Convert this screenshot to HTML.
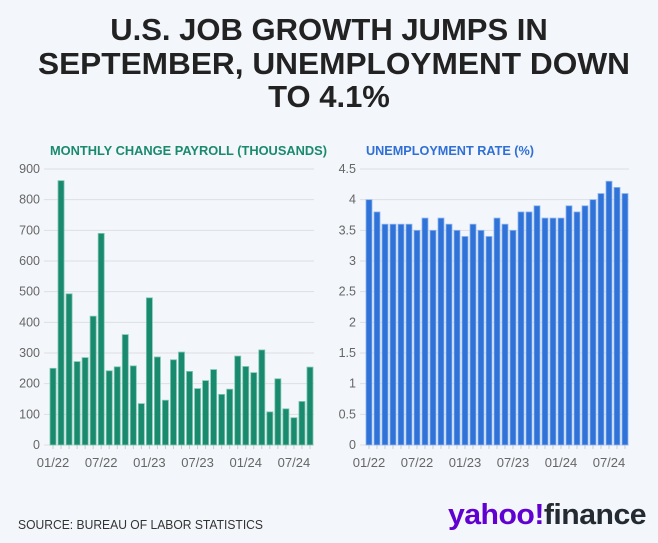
<!DOCTYPE html>
<html><head><meta charset="utf-8"><style>
body{margin:0;background:#f3f6fa;width:658px;height:538px;overflow:hidden;font-family:"Liberation Sans",sans-serif}
</style></head><body>
<svg width="658" height="538" xmlns="http://www.w3.org/2000/svg">
<rect width="658" height="538" fill="#f3f6fa"/>
<g font-family="Liberation Sans, sans-serif" font-weight="bold" font-size="31" fill="#222" text-anchor="middle">
<text x="329" y="40">U.S. JOB GROWTH JUMPS IN</text>
<text x="334" y="74" textLength="592" lengthAdjust="spacingAndGlyphs">SEPTEMBER, UNEMPLOYMENT DOWN</text>
<text x="329" y="107">TO 4.1%</text>
</g>
<text x="50" y="155" font-size="13" font-weight="bold" fill="#1a8a6e" textLength="277" lengthAdjust="spacingAndGlyphs">MONTHLY CHANGE PAYROLL (THOUSANDS)</text>
<text x="366" y="155" font-size="13" font-weight="bold" fill="#2f6fd6" textLength="168" lengthAdjust="spacingAndGlyphs">UNEMPLOYMENT RATE (%)</text>
<g id="left"></g>
<g id="right"></g>
<text x="18" y="529" font-size="12.5" fill="#333" textLength="245" lengthAdjust="spacingAndGlyphs">SOURCE: BUREAU OF LABOR STATISTICS</text>
<text x="646" y="524" font-size="29" font-weight="bold" text-anchor="end" letter-spacing="-0.5" textLength="198" lengthAdjust="spacingAndGlyphs"><tspan fill="#6001d2">yahoo!</tspan><tspan fill="#232a31">finance</tspan></text>
</svg>
<script>
const months = ["01/22","02/22","03/22","04/22","05/22","06/22","07/22","08/22","09/22","10/22","11/22","12/22","01/23","02/23","03/23","04/23","05/23","06/23","07/23","08/23","09/23","10/23","11/23","12/23","01/24","02/24","03/24","04/24","05/24","06/24","07/24","08/24","09/24"];
const payroll = [250,862,493,272,285,420,690,242,255,360,258,135,480,287,146,278,303,240,184,210,246,165,182,290,256,236,310,108,216,118,89,142,254];
const unemployment = [4.0,3.8,3.6,3.6,3.6,3.6,3.5,3.7,3.5,3.7,3.6,3.5,3.4,3.6,3.5,3.4,3.7,3.6,3.5,3.8,3.8,3.9,3.7,3.7,3.7,3.9,3.8,3.9,4.0,4.1,4.3,4.2,4.1];
const payrollTicks = [0,100,200,300,400,500,600,700,800,900];
const rateTicks = [0,0.5,1,1.5,2,2.5,3,3.5,4,4.5];
const xLabels = ["01/22","07/22","01/23","07/23","01/24","07/24"];
const NS="http://www.w3.org/2000/svg";
function mk(parent,tag,attrs){const e=document.createElementNS(NS,tag);for(const k in attrs)e.setAttribute(k,attrs[k]);parent.appendChild(e);return e;}
function draw(gid,vals,ticks,maxV,x0,x1,gx0,color,stroke,prefix){
  const g=document.getElementById(gid);
  const y0=445,yTop=169;
  const y=v=>y0-(v/maxV)*(y0-yTop);
  const band=(x1-x0)/vals.length;
  const x=i=>x0+i*band;
  ticks.forEach(t=>{
    const l=mk(g,'line',{x1:gx0,x2:x1,y1:y(t),y2:y(t),stroke:'#dcdfe4','stroke-width':1});
    
    
    const tx=mk(g,'text',{x:gx0-4,y:y(t)+4,'font-size':12.5,fill:'#666','text-anchor':'end'});
    tx.textContent=String(t);
    
    
  });
  vals.forEach((v,i)=>{
    const tk=mk(g,'line',{x1:x(i)+band/2,x2:x(i)+band/2,y1:y0,y2:y0+4,stroke:'#ccc'});
    
    
    const r=mk(g,'rect',{x:x(i)+1,y:y(v),width:band-2,height:y0-y(v),fill:color,stroke:stroke,'stroke-width':0.8});
    
    
  });
  xLabels.forEach(lb=>{
    const i=months.indexOf(lb);
    const t=mk(g,'text',{x:x(i)+band/2,y:467,'font-size':13,fill:'#666','text-anchor':'middle'});
    t.textContent=lb;
    
    
  });
}
draw('left',payroll,payrollTicks,900,49,314,44,'#1a8a6e','#7cc7b0','payroll');
draw('right',unemployment,rateTicks,4.5,365,629,360,'#2f72d8','#8fb4ee','rate');
</script>
</body></html>
